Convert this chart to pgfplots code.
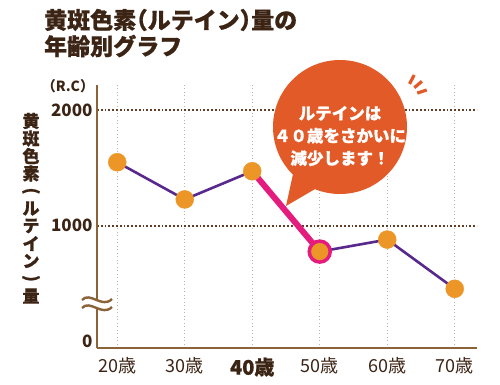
\documentclass[border=0pt]{standalone}
\usepackage{fontspec}
\setmainfont{Noto Sans CJK JP}
\setsansfont{Noto Sans CJK JP}
\newfontfamily\heavyfont[FakeBold=0.8]{Noto Sans CJK JP}
\usepackage{pgfplots}
\pgfplotsset{compat=1.18}
\definecolor{axisbrown}{RGB}{140,98,57}
\definecolor{textbrown}{RGB}{60,36,21}
\definecolor{gridbrown}{RGB}{95,62,40}
\definecolor{vgrid}{RGB}{190,178,165}
\definecolor{linepurple}{RGB}{88,40,140}
\definecolor{markorange}{RGB}{236,150,40}
\definecolor{pinkline}{RGB}{228,28,125}
\definecolor{bubble}{RGB}{226,90,40}
\begin{document}
\begin{tikzpicture}
\path[use as bounding box] (0pt,0pt) rectangle (500pt,384pt);
\begin{axis}[
  at={(97pt,36pt)}, anchor=south west,
  scale only axis, width=380pt, height=263pt,
  xmin=-0.3, xmax=5.33, ymin=-61, ymax=2217,
  axis lines=left,
  axis line style={-, line width=2.5pt, color=axisbrown},
  major tick length=0pt,
  xtick={0,1,2,3,4,5},
  xticklabels={20歳,30歳,{\fontsize{20}{20}\selectfont\heavyfont\bfseries 40歳},50歳,60歳,70歳},
  xticklabel style={font=\fontsize{18}{18}\selectfont, text=textbrown, yshift=-6pt},
  ytick={1000,2000},
  extra y ticks={0},
  extra y tick style={ymajorgrids=false},
  yticklabel style={font=\fontsize{17}{17}\selectfont\bfseries, text=textbrown, xshift=-1pt},
  /pgf/number format/assume math mode=true,
  /pgf/number format/1000 sep={},
  xmajorgrids, ymajorgrids,
  major x grid style={vgrid, line width=0.8pt, dash pattern=on 1pt off 2.5pt},
  major y grid style={gridbrown, line width=2pt, dash pattern=on 1.8pt off 2pt},
  clip=false,
]
\addplot[linepurple, line width=2.6pt] coordinates {(0,1548) (1,1226) (2,1470) (3,774) (4,878) (5,452)};
\addplot[pinkline, line width=6pt] coordinates {(2,1470) (3,774)};
\addplot[only marks, mark=*, color=markorange, mark size=9pt] coordinates {(0,1548) (1,1226) (2,1470) (4,878) (5,452)};
\addplot[only marks, mark=*, draw=pinkline, fill=markorange, line width=3.5pt, mark size=10.5pt] coordinates {(3,774)};
\end{axis}
% axis break
\fill[white] (82pt,84pt) .. controls (90pt,93pt) and (102pt,75pt) .. (112pt,85pt) -- (112pt,77pt) .. controls (102pt,67pt) and (90pt,85pt) .. (82pt,76pt) -- cycle;
\draw[axisbrown, line width=2.4pt] (82pt,84pt) .. controls (90pt,93pt) and (102pt,75pt) .. (112pt,85pt);
\draw[axisbrown, line width=2.4pt] (82pt,76pt) .. controls (90pt,85pt) and (102pt,67pt) .. (112pt,77pt);
% R.C
\node[anchor=center, text=textbrown, font=\fontsize{14}{14}\selectfont\bfseries, inner sep=0pt] at (68pt,298pt) {（R.C）};
% title
\node[anchor=west, text=textbrown, font=\fontsize{23}{23}\selectfont\heavyfont\bfseries, inner sep=0pt] at (44pt,364pt) {黄斑色素\makebox[11.5pt][r]{（}ルテイン\makebox[11.5pt][l]{）}量の};
\node[anchor=west, text=textbrown, font=\fontsize{23}{23}\selectfont\heavyfont\bfseries, inner sep=0pt] at (44pt,338pt) {年齢別グラフ};
% y label (vertical)
\foreach \c [count=\i from 0] in {黄,斑,色,素,{},ル,テ,イ,ン,{},量}{
  \node[text=textbrown, font=\fontsize{17}{17}\selectfont\heavyfont\bfseries, inner sep=0pt] at (31pt,{(263-\i*17.5)*1pt}) {\c};
}
\node[text=textbrown, font=\fontsize{17}{17}\selectfont\heavyfont\bfseries, inner sep=0pt, rotate=-90] at (31pt,{(263-4*17.5)*1pt}) {(};
\node[text=textbrown, font=\fontsize{17}{17}\selectfont\heavyfont\bfseries, inner sep=0pt, rotate=-90] at (31pt,{(263-9*17.5)*1pt}) {)};
% bubble
\fill[bubble] (340pt,257pt) circle (67pt);
\fill[bubble] (295pt,219pt) -- (286pt,178pt) -- (322pt,199pt) -- cycle;
\node[text=white, align=center, font=\fontsize{16.5}{22.5}\selectfont\heavyfont\bfseries, inner sep=0pt] at (340pt,248pt) {ルテインは\\４０歳をさかいに\\減少します！};
% burst
\begin{scope}[bubble, line width=3.2pt]
\draw (409.5pt,300.1pt) -- (414.2pt,309pt);
\draw (414.3pt,296.3pt) -- (421.9pt,302.7pt);
\draw (417.2pt,290.9pt) -- (426.7pt,294pt);
\end{scope}
\end{tikzpicture}
\end{document}
